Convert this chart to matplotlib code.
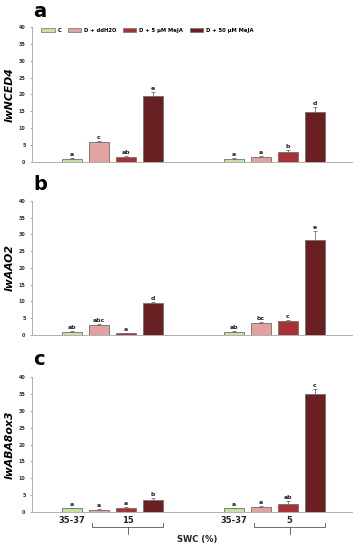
import numpy as np
import matplotlib
matplotlib.use('Agg')
import matplotlib.pyplot as plt
import matplotlib.transforms as mtrans

treatments = ['C', 'D + ddH2O', 'D + 5 µM MeJA', 'D + 50 µM MeJA']
colors = ['#c9e0a3', '#e3a2a2', '#a83336', '#6a1f23']
genes = ['lwNCED4', 'lwAAO2', 'lwABA8ox3']
panels = ['a', 'b', 'c']

# values per gene: group 1 (SWC 15) then group 2 (SWC 5)
means = [
    [1.0, 5.9, 1.6, 19.6, 1.0, 1.5, 3.1, 14.8],
    [0.9, 3.0, 0.6, 9.5, 0.9, 3.6, 4.3, 28.3],
    [1.1, 0.7, 1.1, 3.6, 1.1, 1.4, 2.5, 35.1],
]
errs = [
    [0.2, 0.4, 0.2, 1.0, 0.2, 0.2, 0.3, 1.4],
    [0.2, 0.4, 0.1, 0.4, 0.2, 0.4, 0.3, 2.8],
    [0.2, 0.1, 0.3, 0.5, 0.2, 0.3, 0.9, 1.3],
]
letters = [
    ['a', 'c', 'ab', 'e', 'a', 'a', 'b', 'd'],
    ['ab', 'abc', 'a', 'd', 'ab', 'bc', 'c', 'e'],
    ['a', 'a', 'a', 'b', 'a', 'a', 'ab', 'c'],
]
xpos = [0, 1, 2, 3, 6, 7, 8, 9]
swc_labels = ['35-37', '15', '35-37', '5']
swc_pos = [0, 2.07, 6, 8.07]

fig = plt.figure(figsize=(3.62, 5.5), dpi=100)
boxes = [[0.088, 0.7055, 0.884, 0.2455],
         [0.088, 0.391, 0.884, 0.2436],
         [0.088, 0.069, 0.884, 0.2455]]
letter_y = [1.075, 1.082, 1.089]

grey = '#8a8a8a'
for k in range(3):
    ax = fig.add_axes(boxes[k])
    cols = colors * 2
    ax.bar(xpos, means[k], width=0.74, color=cols, edgecolor='#707070', linewidth=0.6, zorder=2)
    ax.errorbar(xpos, means[k], yerr=[np.zeros(8), errs[k]], fmt='none', ecolor='#707070',
                elinewidth=0.6, capsize=1.2, capthick=0.6, zorder=3)
    for i in range(8):
        ax.text(xpos[i], means[k][i] + errs[k][i] + 0.3, letters[k][i], ha='center', va='bottom',
                fontsize=4.5, fontweight='bold', color='#222222')
    ax.set_xlim(-1.48, 10.37)
    ax.set_ylim(0, 40)
    ax.set_yticks(np.arange(0, 41, 5))
    ax.set_xticks([])
    ax.tick_params(axis='y', labelsize=3.5, length=1.5, width=0.5, color=grey, pad=3)
    for lab in ax.get_yticklabels():
        lab.set_fontweight('bold')
        lab.set_color('#333333')
    for s in ['top', 'right']:
        ax.spines[s].set_visible(False)
    for s in ['left', 'bottom']:
        ax.spines[s].set_color('#b0b0b0')
        ax.spines[s].set_linewidth(0.7)
    ax.set_ylabel(genes[k], fontsize=7.8, fontstyle='italic', fontweight='bold', labelpad=3)
    ax.text(0.005, letter_y[k], panels[k], transform=ax.transAxes, fontsize=14,
            fontweight='bold', va='baseline', ha='left')

    if k == 0:
        handles = [plt.Rectangle((0, 0), 1, 1, facecolor=c, edgecolor='#707070', linewidth=0.5) for c in colors]
        ax.legend(handles, treatments, ncol=4, loc='upper left', bbox_to_anchor=(0.015, 1.03),
                  frameon=False, handlelength=2.5, handleheight=0.9,
                  columnspacing=1.2, handletextpad=0.6, prop={'weight': 'bold', 'size': 3.8})

    if k == 2:
        tr = mtrans.blended_transform_factory(ax.transData, ax.transAxes)
        for lab, p in zip(swc_labels, swc_pos):
            ax.text(p, -0.03, lab, transform=tr, ha='center', va='top', fontsize=6,
                    fontweight='bold', color='#222222')
        for g in [0, 6]:
            x0, x1 = g + 0.74, g + 3.37
            xm = g + 2.07
            ax.plot([x0, x0, x1, x1], [-0.08, -0.11, -0.11, -0.08], transform=tr, color='#555555',
                    lw=0.6, clip_on=False)
            ax.plot([xm, xm], [-0.11, -0.165], transform=tr, color='#555555', lw=0.6, clip_on=False)
        ax.text(4.63, -0.17, 'SWC (%)', transform=tr, ha='center', va='top', fontsize=6,
                fontweight='bold', color='#222222')

fig.savefig('out.png', dpi=100)
